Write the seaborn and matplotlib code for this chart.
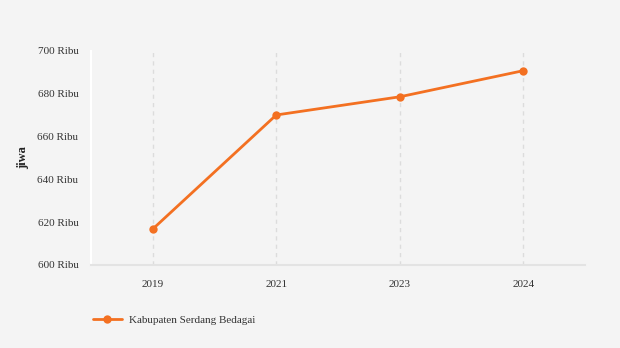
import matplotlib
matplotlib.use("Agg")
import matplotlib.pyplot as plt
import seaborn as sns
import pandas as pd
from matplotlib.lines import Line2D

years = ["2019", "2021", "2023", "2024"]
values = [616.8, 670.1, 678.6, 690.8]
series_name = "Kabupaten Serdang Bedagai"
y_ticks = [600, 620, 640, 660, 680, 700]
y_tick_labels = [f"{v} Ribu" for v in y_ticks]

sns.set_theme(style="white")
plt.rcParams['font.family'] = ['Liberation Serif', 'DejaVu Serif']

bg = "#f4f4f4"
orange = "#f37021"

fig = plt.figure(figsize=(6.2, 3.48), dpi=100, facecolor=bg)
ax = fig.add_axes([91/620, 83/348, 494/620, 214/348])
ax.set_facecolor(bg)

df = pd.DataFrame({"year": years, "value": values})
sns.lineplot(data=df, x="year", y="value", ax=ax, color=orange, linewidth=2.0,
             marker="o", markersize=6, markeredgewidth=0, sort=False, zorder=3)

ax.set_xlim(-0.5, 3.5)
ax.set_ylim(600, 700)
ax.set_yticks(y_ticks)
ax.set_yticklabels(y_tick_labels, fontsize=8, color="#333333")
ax.set_xticks(range(len(years)))
ax.set_xticklabels(years, fontsize=8, color="#333333")

for i in range(len(years)):
    ax.axvline(i, color="#dcdcdc", linestyle=(0, (3, 3)), linewidth=1, zorder=1)

for s in ["top", "right"]:
    ax.spines[s].set_visible(False)
ax.spines["left"].set_color("white")
ax.spines["left"].set_linewidth(1.5)
ax.spines["bottom"].set_color("#e3e3e3")
ax.spines["bottom"].set_linewidth(1.5)
ax.tick_params(axis="y", length=6, width=1.5, color="white", pad=3)
ax.tick_params(axis="x", length=0, pad=11)

ax.set_xlabel("")
ax.set_ylabel("jiwa", fontsize=9, fontweight="bold", color="#222222")
ax.yaxis.set_label_coords(-0.126, 0.5)

handle = Line2D([0], [0], color=orange, linewidth=2.0, marker="o", markersize=6,
                markeredgewidth=0)
fig.legend([handle], [series_name], loc="center left",
           bbox_to_anchor=(83/620, 1 - 320/348), frameon=False, fontsize=8,
           handlelength=2.6, handletextpad=0.6, labelcolor="#333333")

fig.savefig("out.png", dpi=100, facecolor=bg)
